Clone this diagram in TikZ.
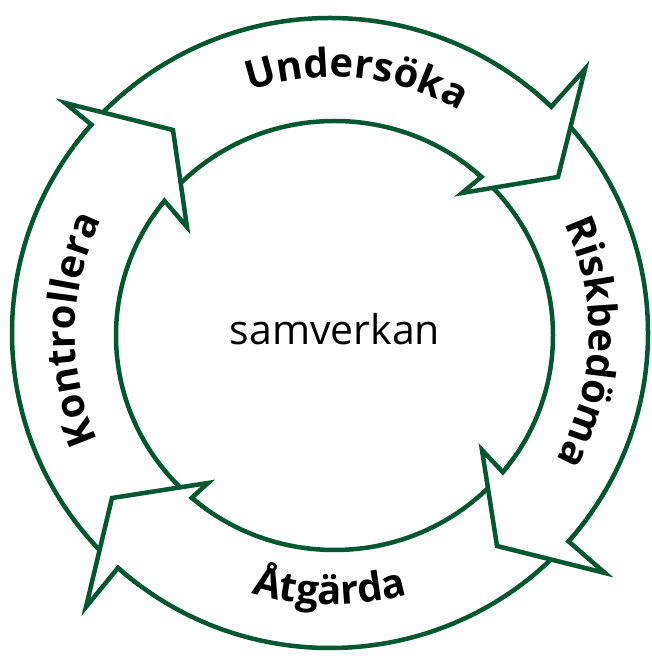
\documentclass[tikz,border=0pt]{standalone}
\usepackage{fontspec}
\setmainfont{Open Sans}
\usetikzlibrary{calc,decorations.text}
\definecolor{ringgreen}{RGB}{0,87,50}
\newcommand\lblfont{\fontsize{20}{20}\selectfont\bfseries}
\newcommand\headpath[5]{($(OC)+(#1+5:318 and 315)$) arc[start angle=#1+5, end angle=#1, x radius=318, y radius=315]
  -- #3 -- #4 -- #5 -- ($(IC)+(#2:218.5 and 214.5)$) arc[start angle=#2, end angle=#2+5, x radius=218.5, y radius=214.5]}
\begin{document}
\begin{tikzpicture}[x=0.5pt,y=0.5pt,
  ring/.style={draw=ringgreen, line width=2.25pt, line join=miter, miter limit=20},
  arclabel/.style={decorate, decoration={text along path, text align=center, text format delimiters={|}{|}, text={|\lblfont|#1}}}]
\useasboundingbox (0,0) rectangle (652,658);
\coordinate (OC) at (330,325);
\coordinate (IC) at (334.5,322.5);
\coordinate (TC) at (332,324);
\draw[ring] (OC) ellipse [x radius=318, y radius=315];
\draw[ring] (IC) ellipse [x radius=218.5, y radius=214.5];
% arrow heads
\fill[white] \headpath{138.6}{141.1}{(65,555)}{(173,528)}{(187,431)} -- cycle;
\draw[ring] \headpath{138.6}{141.1}{(65,555)}{(173,528)}{(187,431)};
\fill[white] \headpath{45.9}{47.7}{(585,589)}{(558,481)}{(462,465)} -- cycle;
\draw[ring] \headpath{45.9}{47.7}{(585,589)}{(558,481)}{(462,465)};
\fill[white] \headpath{-41.4}{-39.6}{(605,85)}{(497,112)}{(482,208)} -- cycle;
\draw[ring] \headpath{-41.4}{-39.6}{(605,85)}{(497,112)}{(482,208)};
\fill[white] \headpath{-131.8}{-130.8}{(86,51)}{(112,160)}{(208,175)} -- cycle;
\draw[ring] \headpath{-131.8}{-130.8}{(86,51)}{(112,160)}{(208,175)};
% labels
\path[arclabel=Undersöka] ($(TC)+(124.5:257)$) arc[start angle=124.5, end angle=44.5, radius=257];
\path[arclabel=Riskbedöma] ($(TC)+(38:257)$) arc[start angle=38, end angle=-42, radius=257];
\path[arclabel=Åtgärda] ($(TC)+(-130.5:271)$) arc[start angle=-130.5, end angle=-50.5, radius=271];
\path[arclabel=Kontrollera] ($(TC)+(219:257)$) arc[start angle=219, end angle=139, radius=257];
\node[font=\fontsize{20.5}{20.5}\selectfont, anchor=base] (sam) at (335,313) {samverkan};
\end{tikzpicture}
\end{document}
